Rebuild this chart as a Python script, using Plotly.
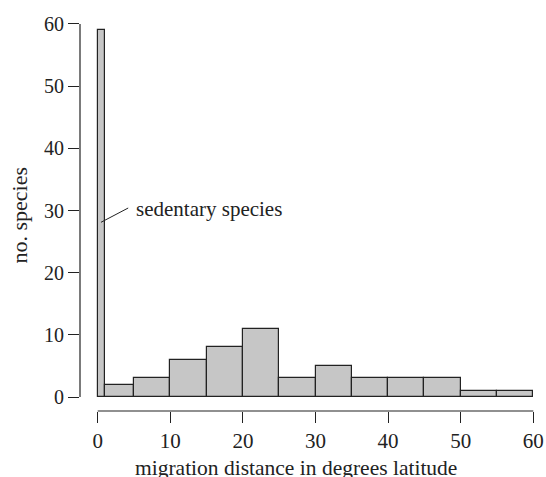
import plotly.graph_objects as go

bin_edges = [0, 1, 5, 10, 15, 20, 25, 30, 35, 40, 45, 50, 55, 60]
counts = [59, 2, 3, 6, 8, 11, 3, 5, 3, 3, 3, 1, 1]
x_ticks = [0, 10, 20, 30, 40, 50, 60]
y_ticks = [0, 10, 20, 30, 40, 50, 60]

lefts = bin_edges[:-1]
widths = [b - a for a, b in zip(bin_edges[:-1], bin_edges[1:])]

font = "Liberation Serif, Times New Roman, serif"
dark = "#222222"
fs = 20

fig = go.Figure()
fig.add_trace(go.Bar(
    x=lefts, y=counts, width=widths, offset=0,
    marker=dict(color="#c6c6c6", line=dict(color=dark, width=1.2)),
    hoverinfo="skip",
))

# detached axis lines (R style)
fig.add_shape(type="line", xref="x", yref="paper", x0=x_ticks[0], x1=x_ticks[-1], y0=0, y1=0,
              line=dict(color=dark, width=1.2))
fig.add_shape(type="line", xref="paper", yref="y", x0=0, x1=0, y0=y_ticks[0], y1=y_ticks[-1],
              line=dict(color=dark, width=1.2))

# label for sedentary species
fig.add_shape(type="line", xref="x", yref="y", x0=0.45, y0=28.1, x1=4.2, y1=30.4,
              line=dict(color=dark, width=1))
fig.add_annotation(x=5.0, y=30.2, xref="x", yref="y", text="sedentary species",
                   showarrow=False, xanchor="left", yanchor="middle",
                   font=dict(family=font, size=21, color=dark))

# axis titles
fig.add_annotation(x=27.3, y=0, xref="x", yref="paper", yshift=-57,
                   text="migration distance in degrees latitude",
                   showarrow=False, xanchor="center", yanchor="middle",
                   font=dict(family=font, size=21.5, color=dark))
fig.add_annotation(x=0, y=29.2, xref="paper", yref="y", xshift=-61,
                   text="no. species", textangle=-90,
                   showarrow=False, xanchor="center", yanchor="middle",
                   font=dict(family=font, size=22, color=dark))

fig.update_layout(
    width=546, height=477,
    margin=dict(l=80, r=0, t=10, b=66),
    paper_bgcolor="white", plot_bgcolor="white",
    showlegend=False,
    bargap=0,
    font=dict(family=font, size=fs, color=dark),
    xaxis=dict(range=[-2.44, 61.75], tickvals=x_ticks, ticktext=[str(v) for v in x_ticks],
               showgrid=False, zeroline=False, showline=False, automargin=False,
               ticks="outside", ticklen=11, tickwidth=1.2, tickcolor=dark,
               tickfont=dict(family=font, size=fs + 1, color=dark)),
    yaxis=dict(range=[-2.25, 62.25], tickvals=y_ticks, ticktext=[str(v) for v in y_ticks],
               showgrid=False, zeroline=False, showline=False, automargin=False,
               ticks="outside", ticklen=11, tickwidth=1.2, tickcolor=dark,
               tickfont=dict(family=font, size=fs, color=dark)),
)

fig.write_html("out.html", config={"displayModeBar": False},
               post_script="document.body.style.margin='0';document.body.style.overflow='hidden';")
